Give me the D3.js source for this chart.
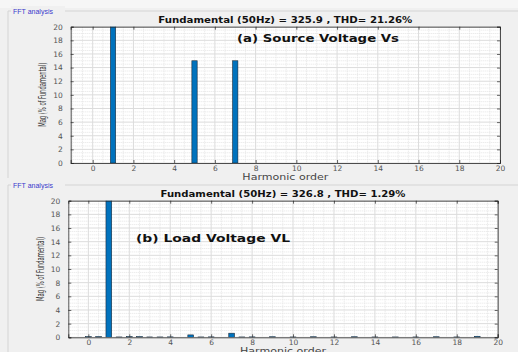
<!DOCTYPE html>
<html>
<head>
<meta charset="utf-8">
<script src="https://cdn.jsdelivr.net/npm/d3@7"></script>
<style>
  body { margin: 0; background: #f0f0f0; }
  svg { display: block; font-family: "DejaVu Sans", sans-serif; }
</style>
</head>
<body>
<div id="chart"></div>
<script>
// harmonic spectra (values in % of fundamental)
const xTicks = [0, 2, 4, 6, 8, 10, 12, 14, 16, 18, 20]
const yTicks = [0, 2, 4, 6, 8, 10, 12, 14, 16, 18, 20]

const srcOrders = [1, 5, 7]
const srcMags = [100, 15, 15]

const loadOrders = [0, 0.5, 1, 1.5, 2, 2.5, 3, 3.5, 4, 5, 5.5, 6, 7, 7.5, 8, 9, 10, 11, 12, 13, 14, 15, 16, 17, 18, 19]
const loadMags = [0.1, 0.1, 100, 0.05, 0.1, 0.1, 0.05, 0.05, 0.06, 0.35, 0.05, 0.06, 0.6, 0.05, 0.06, 0.08, 0.05, 0.08, 0.05, 0.08, 0.05, 0.05, 0.05, 0.08, 0.05, 0.15]

const panels = [
  {
    top: 0, frameY: 11, box: {left: 70.7, right: 500, top: 26.7, bottom: 163},
    title: 'Fundamental (50Hz) = 325.9 , THD= 21.26%', titleLen: 254,
    note: '(a) Source Voltage Vs', noteX: 237, noteY: 42, noteLen: 162,
    orders: srcOrders, mags: srcMags, xmin: -1.08, barW: 0.26, labelDy: 17
  },
  {
    top: 178, frameY: 185, box: {left: 68.3, right: 497.7, top: 200.7, bottom: 337.3},
    title: 'Fundamental (50Hz) = 326.8 , THD= 1.29%', titleLen: 245,
    note: '(b) Load Voltage VL', noteX: 136, noteY: 242, noteLen: 154,
    orders: loadOrders, mags: loadMags, xmin: -0.98, barW: 0.28, labelDy: 16.5
  }
]

const W = 518, H = 352
const svg = d3.select('#chart').append('svg')
  .attr('width', W)
  .attr('height', H)

svg.append('rect').attr('width', W).attr('height', H).attr('fill', '#f0f0f0')
svg.append('rect').attr('width', W).attr('height', 8).attr('fill', '#f6f6f6')

panels.forEach(p => {
  const b = p.box
  const x = d3.scaleLinear().domain([p.xmin, 20]).range([b.left, b.right])
  const y = d3.scaleLinear().domain([0, 20]).range([b.bottom, b.top])

  // etched frame with label
  svg.append('line')
    .attr('x1', 8).attr('x2', W).attr('y1', p.frameY).attr('y2', p.frameY)
    .attr('stroke', '#d4d4d4')
  svg.append('line')
    .attr('x1', 8).attr('x2', 8).attr('y1', p.frameY).attr('y2', p.top + 178)
    .attr('stroke', '#d4d4d4')
  svg.append('rect')
    .attr('x', 11).attr('y', p.frameY - 5).attr('width', 54).attr('height', 10)
    .attr('fill', '#f0f0f0')
  svg.append('text')
    .attr('x', 13).attr('y', p.frameY + 2.5)
    .attr('font-family', '"Liberation Sans", Arial, sans-serif')
    .attr('font-size', 7).attr('fill', '#3a3acc')
    .text('FFT analysis')

  const g = svg.append('g')
  g.append('rect')
    .attr('x', b.left).attr('y', b.top)
    .attr('width', b.right - b.left).attr('height', b.bottom - b.top)
    .attr('fill', '#fff')

  // minor grid
  g.append('g').selectAll('line').data(d3.range(-1, 20.01, 0.5).filter(v => v % 2 !== 0 && v > p.xmin))
    .join('line')
    .attr('x1', d => x(d)).attr('x2', d => x(d)).attr('y1', b.top).attr('y2', b.bottom)
    .attr('stroke', '#e4e4e4').attr('stroke-dasharray', '1,1')
  g.append('g').selectAll('line').data(d3.range(0.5, 20, 0.5).filter(v => v % 2 !== 0))
    .join('line')
    .attr('x1', b.left).attr('x2', b.right).attr('y1', d => y(d)).attr('y2', d => y(d))
    .attr('stroke', '#e4e4e4').attr('stroke-dasharray', '1,1')
  // major grid
  g.append('g').selectAll('line').data(xTicks)
    .join('line')
    .attr('x1', d => x(d)).attr('x2', d => x(d)).attr('y1', b.top).attr('y2', b.bottom)
    .attr('stroke', '#dcdcdc')
  g.append('g').selectAll('line').data(yTicks)
    .join('line')
    .attr('x1', b.left).attr('x2', b.right).attr('y1', d => y(d)).attr('y2', d => y(d))
    .attr('stroke', '#dcdcdc')

  // bars (clipped at the top of the axes)
  const clipId = 'clip' + p.top
  g.append('clipPath').attr('id', clipId)
    .append('rect')
    .attr('x', b.left).attr('y', b.top)
    .attr('width', b.right - b.left).attr('height', b.bottom - b.top)
  g.append('g').attr('clip-path', `url(#${clipId})`)
    .selectAll('rect').data(p.orders.map((o, i) => ({o, m: p.mags[i]})))
    .join('rect')
    .attr('x', d => x(d.o - p.barW / 2))
    .attr('width', d => x(d.o + p.barW / 2) - x(d.o - p.barW / 2))
    .attr('y', d => y(Math.min(d.m, 21)))
    .attr('height', d => y(0) - y(Math.min(d.m, 21)))
    .attr('fill', '#0072bd')
    .attr('stroke', '#1a2a3a')
    .attr('stroke-width', 0.6)

  // axes with inward ticks on all sides
  const ax = g.append('g')
  const xb = ax.append('g').attr('transform', `translate(0,${b.bottom})`)
    .call(d3.axisBottom(x).tickValues(xTicks).tickSize(-3).tickPadding(2.5))
  const xt = ax.append('g').attr('transform', `translate(0,${b.top})`)
    .call(d3.axisTop(x).tickValues(xTicks).tickSize(-3).tickFormat(''))
  const yl = ax.append('g').attr('transform', `translate(${b.left},0)`)
    .call(d3.axisLeft(y).tickValues(yTicks).tickSize(-3).tickPadding(8))
  const yr = ax.append('g').attr('transform', `translate(${b.right},0)`)
    .call(d3.axisRight(y).tickValues(yTicks).tickSize(-3).tickFormat(''))
  ;[xb, xt, yl, yr].forEach(a => {
    a.select('.domain').attr('stroke', '#262626').attr('stroke-width', 0.8)
    a.selectAll('.tick line').attr('stroke', '#262626').attr('stroke-width', 0.7)
    a.selectAll('.tick text').attr('fill', '#555').attr('font-family', '"DejaVu Sans", sans-serif')
      .attr('font-size', 7.5)
  })

  const cx = (b.left + b.right) / 2
  svg.append('text')
    .attr('x', cx).attr('y', b.top - 4)
    .attr('text-anchor', 'middle')
    .attr('font-size', 8.4).attr('font-weight', 'bold')
    .attr('textLength', p.titleLen)
    .attr('lengthAdjust', 'spacingAndGlyphs')
    .attr('fill', '#111')
    .text(p.title)

  svg.append('text')
    .attr('x', p.noteX).attr('y', p.noteY)
    .attr('font-size', 10).attr('font-weight', 'bold')
    .attr('textLength', p.noteLen)
    .attr('lengthAdjust', 'spacingAndGlyphs')
    .attr('fill', '#111')
    .text(p.note)

  svg.append('text')
    .attr('x', cx).attr('y', b.bottom + p.labelDy)
    .attr('text-anchor', 'middle')
    .attr('font-size', 8.4)
    .attr('textLength', 86)
    .attr('lengthAdjust', 'spacingAndGlyphs')
    .attr('fill', '#444')
    .text('Harmonic order')

  svg.append('text')
    .attr('transform', `translate(${b.left - 24.5},${(b.top + b.bottom) / 2}) rotate(-90)`)
    .attr('text-anchor', 'middle')
    .attr('font-size', 10)
    .attr('textLength', 64)
    .attr('lengthAdjust', 'spacingAndGlyphs')
    .attr('fill', '#333')
    .text('Mag (% of Fundamental)')
})
</script>
</body>
</html>
